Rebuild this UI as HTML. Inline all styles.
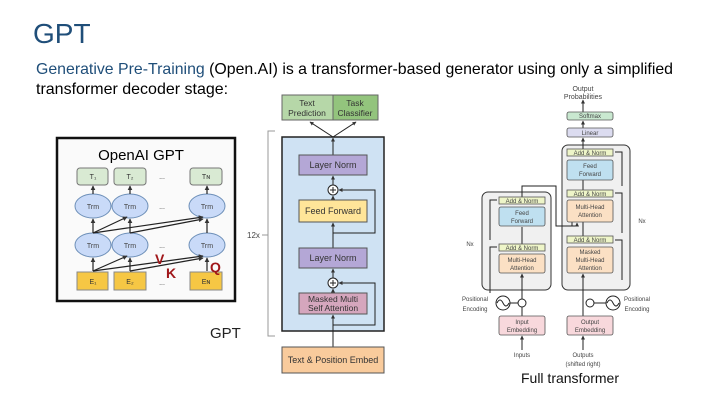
<!DOCTYPE html>
<html><head><meta charset="utf-8"><style>
html,body{margin:0;padding:0;background:#fff;}
svg{display:block;font-family:"Liberation Sans",sans-serif;}
</style></head><body>
<svg width="720" height="405" viewBox="0 0 720 405" xmlns="http://www.w3.org/2000/svg">
<defs>
<marker id="b" markerWidth="4" markerHeight="4" refX="3.5" refY="2" orient="auto"><path d="M0,0 L4,2 L0,4z" fill="#333"/></marker>
</defs>
<text x="33" y="43" font-size="28" fill="#1f4e79">GPT</text>
<text x="36" y="74" font-size="16" textLength="637" lengthAdjust="spacingAndGlyphs"><tspan fill="#1f4e79">Generative Pre-Training</tspan> (Open.AI) is a transformer-based generator using only a simplified</text>
<text x="36" y="94" font-size="16">transformer decoder stage:</text>

<!-- OpenAI GPT panel -->
<rect x="57" y="138" width="178" height="163" fill="#fafafa" stroke="#111" stroke-width="2.5"/>
<text x="141" y="160" font-size="15" text-anchor="middle">OpenAI GPT</text>
<g fill="#d9ead3" stroke="#777" stroke-width="1">
<rect x="77" y="168" width="31" height="17" rx="3"/><rect x="114" y="168" width="32" height="17" rx="3"/><rect x="190" y="168" width="32" height="17" rx="3"/></g>
<g font-size="7" text-anchor="middle" fill="#333"><text x="93" y="179">T₁</text><text x="130" y="179">T₂</text><text x="206" y="179">Tɴ</text>
<text x="162" y="179">...</text><text x="162" y="209">...</text><text x="162" y="248">...</text><text x="162" y="285">...</text></g>
<g fill="#c9daf8" stroke="#6d8fb8" stroke-width="1">
<ellipse cx="93" cy="206" rx="18" ry="12"/><ellipse cx="130" cy="206" rx="18" ry="12"/><ellipse cx="207" cy="206" rx="18" ry="12"/>
<ellipse cx="93" cy="245" rx="18" ry="12"/><ellipse cx="130" cy="245" rx="18" ry="12"/><ellipse cx="207" cy="245" rx="18" ry="12"/></g>
<g font-size="7" text-anchor="middle" fill="#444"><text x="93" y="209">Trm</text><text x="130" y="209">Trm</text><text x="207" y="209">Trm</text><text x="93" y="248">Trm</text><text x="130" y="248">Trm</text><text x="207" y="248">Trm</text></g>
<g fill="#f6c744" stroke="#888" stroke-width="1">
<rect x="77" y="272" width="31" height="18"/><rect x="114" y="272" width="32" height="18"/><rect x="190" y="272" width="32" height="18"/></g>
<g font-size="7" text-anchor="middle" fill="#333"><text x="93" y="284">E₁</text><text x="130" y="284">E₂</text><text x="206" y="284">Eɴ</text></g>
<g stroke="#222" stroke-width="1.2" marker-end="url(#b)" fill="none">
<line x1="93" y1="194" x2="93" y2="186"/><line x1="130" y1="194" x2="130" y2="186"/><line x1="207" y1="194" x2="207" y2="186"/>
<line x1="93" y1="233" x2="93" y2="219"/><line x1="93" y1="233" x2="127" y2="217"/><line x1="93" y1="233" x2="203" y2="217"/>
<line x1="130" y1="233" x2="130" y2="219"/><line x1="130" y1="233" x2="203" y2="219"/><line x1="207" y1="233" x2="207" y2="219"/>
<line x1="93" y1="271" x2="93" y2="258"/><line x1="93" y1="271" x2="127" y2="256"/><line x1="93" y1="271" x2="203" y2="256"/>
<line x1="130" y1="271" x2="130" y2="258"/><line x1="130" y1="271" x2="203" y2="258"/><line x1="207" y1="271" x2="207" y2="258"/>
</g>
<g font-size="14" font-weight="bold" fill="#a0171a"><text x="155" y="264">V</text><text x="166" y="278">K</text><text x="210" y="272">Q</text></g>
<text x="210" y="338" font-size="15" fill="#222">GPT</text>

<!-- GPT decoder -->
<rect x="282" y="95" width="51" height="25" fill="#b6d7a8" stroke="#666"/>
<rect x="333" y="95" width="45" height="25" fill="#93c47d" stroke="#666"/>
<g font-size="8.5" text-anchor="middle" fill="#333"><text x="307" y="106">Text</text><text x="307" y="116">Prediction</text><text x="355" y="106">Task</text><text x="355" y="116">Classifier</text></g>
<path d="M275,131 L268,131 L268,336 L275,336" fill="none" stroke="#999"/>
<line x1="262" y1="235" x2="268" y2="235" stroke="#999"/>
<text x="247" y="238" font-size="8" fill="#444">12x</text>
<rect x="282" y="137" width="102" height="194" fill="#cfe2f3" stroke="#222" stroke-width="1.5"/>
<g stroke="#222" stroke-width="1" fill="none">
<line x1="333" y1="347" x2="333" y2="315" marker-end="url(#b)"/>
<line x1="333" y1="293" x2="333" y2="289" marker-end="url(#b)"/>
<line x1="333" y1="278" x2="333" y2="269" marker-end="url(#b)"/>
<line x1="333" y1="248" x2="333" y2="223" marker-end="url(#b)"/>
<line x1="333" y1="200" x2="333" y2="196" marker-end="url(#b)"/>
<line x1="333" y1="185" x2="333" y2="176" marker-end="url(#b)"/>
<line x1="333" y1="155" x2="333" y2="138" marker-end="url(#b)"/>
<path d="M333,325 L375,325 L375,283 L339,283" marker-end="url(#b)"/>
<path d="M333,233 L375,233 L375,190 L339,190" marker-end="url(#b)"/>
<line x1="333" y1="137" x2="310" y2="122" marker-end="url(#b)"/>
<line x1="333" y1="137" x2="356" y2="122" marker-end="url(#b)"/>
<circle cx="333" cy="190" r="5" fill="#fff"/><circle cx="333" cy="283" r="5" fill="#fff"/>
<path d="M330,190h6M333,187v6M330,283h6M333,280v6"/>
</g>
<rect x="299" y="155" width="68" height="20" fill="#b4a7d6" stroke="#555"/>
<rect x="299" y="200" width="68" height="22" fill="#ffe599" stroke="#555"/>
<rect x="299" y="248" width="68" height="20" fill="#b4a7d6" stroke="#555"/>
<rect x="299" y="293" width="68" height="21" fill="#d5a6bd" stroke="#555"/>
<rect x="282" y="347" width="102" height="26" fill="#f9cb9c" stroke="#555"/>
<g font-size="9" text-anchor="middle" fill="#333"><text x="333" y="168">Layer Norm</text><text x="333" y="214">Feed Forward</text><text x="333" y="261">Layer Norm</text>
<text x="333" y="302" font-size="8.5">Masked Multi</text><text x="333" y="311" font-size="8.5">Self Attention</text><text x="333" y="363">Text &amp; Position Embed</text></g>

<!-- Full transformer -->
<g font-size="7" fill="#444" text-anchor="middle">
<text x="583" y="91">Output</text><text x="583" y="99">Probabilities</text></g>
<rect x="562" y="145" width="68" height="145" rx="6" fill="#f0f0f0" stroke="#333"/>
<rect x="482" y="192" width="69" height="98" rx="6" fill="#f0f0f0" stroke="#333"/>
<g stroke="#222" stroke-width="1" fill="none">
<line x1="583" y1="112" x2="583" y2="100" marker-end="url(#b)"/>
<line x1="583" y1="128" x2="583" y2="121" marker-end="url(#b)"/>
<line x1="583" y1="149" x2="583" y2="138" marker-end="url(#b)"/>
<line x1="583" y1="350" x2="583" y2="336" marker-end="url(#b)"/>
<line x1="583" y1="316" x2="583" y2="274" marker-end="url(#b)"/>
<line x1="522" y1="350" x2="522" y2="336" marker-end="url(#b)"/>
<line x1="522" y1="316" x2="522" y2="274" marker-end="url(#b)"/>
<line x1="522" y1="251" x2="522" y2="227"/>
<path d="M522,204 L522,186 L556,186 L556,226 L577,226 L577,223" marker-end="url(#b)"/>
<path d="M556,226 L572,226 L572,222"/>
<path d="M490,240 L490,200 L497,200"/><path d="M490,293 L490,247 L497,247"/>
<path d="M622,280 L622,240 L615,240"/><path d="M622,233 L622,193 L615,193"/><path d="M622,186 L622,152 L615,152"/>
<line x1="583" y1="243" x2="583" y2="222"/><line x1="583" y1="197" x2="583" y2="180"/>
<circle cx="522" cy="303" r="4" fill="#fff"/><circle cx="590" cy="303" r="4" fill="#fff"/>
<circle cx="503" cy="303" r="7" fill="#fff"/><circle cx="613" cy="303" r="7" fill="#fff"/>
<path d="M497,303 q3,-6 6,0 q3,6 6,0 M607,303 q3,-6 6,0 q3,6 6,0"/>
<line x1="510" y1="303" x2="518" y2="303"/><line x1="594" y1="303" x2="606" y2="303"/>
</g>
<g stroke="#555" stroke-width="0.8">
<rect x="567" y="112" width="46" height="8" rx="2" fill="#c9e8d0"/>
<rect x="567" y="128" width="46" height="9" rx="2" fill="#dcdcf0"/>
<rect x="567" y="149" width="46" height="7" fill="#eef5c8"/>
<rect x="567" y="160" width="46" height="20" rx="2" fill="#bfe0f0"/>
<rect x="567" y="190" width="46" height="7" fill="#eef5c8"/>
<rect x="567" y="200" width="46" height="22" rx="2" fill="#fbe0c4"/>
<rect x="567" y="236" width="46" height="7" fill="#eef5c8"/>
<rect x="567" y="247" width="46" height="26" rx="2" fill="#fbe0c4"/>
<rect x="499" y="197" width="46" height="7" fill="#eef5c8"/>
<rect x="499" y="207" width="46" height="19" rx="2" fill="#bfe0f0"/>
<rect x="499" y="244" width="46" height="7" fill="#eef5c8"/>
<rect x="499" y="254" width="46" height="19" rx="2" fill="#fbe0c4"/>
<rect x="499" y="316" width="46" height="19" rx="2" fill="#f8d8dc"/>
<rect x="567" y="316" width="46" height="19" rx="2" fill="#f8d8dc"/>
</g>
<g font-size="6" fill="#444" text-anchor="middle">
<text x="590" y="118">Softmax</text><text x="590" y="135">Linear</text>
<text x="590" y="155">Add &amp; Norm</text><text x="590" y="168">Feed</text><text x="590" y="176">Forward</text>
<text x="590" y="196">Add &amp; Norm</text><text x="590" y="209">Multi-Head</text><text x="590" y="217">Attention</text>
<text x="590" y="242">Add &amp; Norm</text><text x="590" y="254">Masked</text><text x="590" y="262">Multi-Head</text><text x="590" y="270">Attention</text>
<text x="522" y="203">Add &amp; Norm</text><text x="522" y="215">Feed</text><text x="522" y="223">Forward</text>
<text x="522" y="250">Add &amp; Norm</text><text x="522" y="262">Multi-Head</text><text x="522" y="270">Attention</text>
<text x="522" y="324">Input</text><text x="522" y="332">Embedding</text>
<text x="590" y="324">Output</text><text x="590" y="332">Embedding</text>
<text x="522" y="357">Inputs</text><text x="583" y="357">Outputs</text><text x="583" y="366">(shifted right)</text>
<text x="470" y="246">Nx</text><text x="642" y="223">Nx</text>
<text x="475" y="301">Positional</text><text x="475" y="311">Encoding</text>
<text x="637" y="301">Positional</text><text x="637" y="311">Encoding</text>
</g>
<text x="570" y="383" font-size="14" fill="#111" text-anchor="middle">Full transformer</text>
</svg>
</body></html>
